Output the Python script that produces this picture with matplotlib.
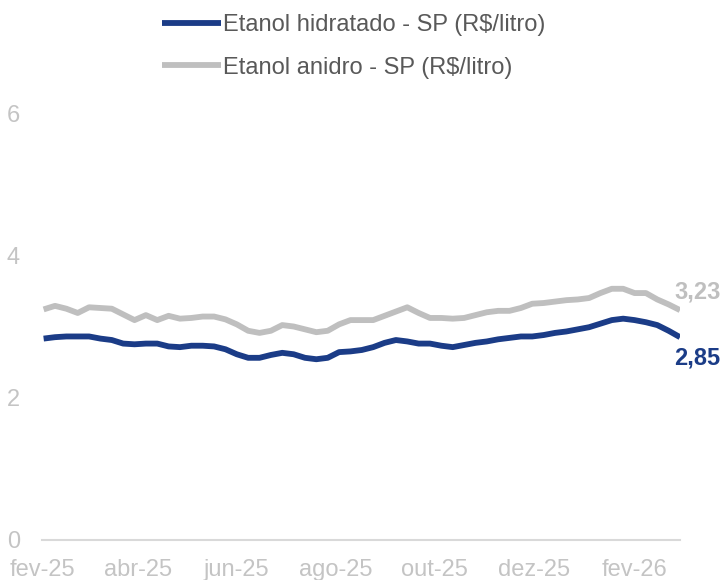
import matplotlib
matplotlib.use("Agg")
import matplotlib.pyplot as plt
import numpy as np
import pandas as pd

plt.rcParams['font.family'] = ['Liberation Sans', 'DejaVu Sans']

dates = pd.date_range("2025-02-02", periods=57, freq="7D")

hidratado = [2.83, 2.85, 2.86, 2.86, 2.86, 2.83, 2.81, 2.76, 2.75, 2.76,
             2.76, 2.72, 2.71, 2.73, 2.73, 2.72, 2.68, 2.61, 2.56, 2.56,
             2.60, 2.63, 2.61, 2.56, 2.54, 2.56, 2.64, 2.65, 2.67, 2.71,
             2.77, 2.81, 2.79, 2.76, 2.76, 2.73, 2.71, 2.74, 2.77, 2.79,
             2.82, 2.84, 2.86, 2.86, 2.88, 2.91, 2.93, 2.96, 2.99, 3.04,
             3.09, 3.11, 3.09, 3.06, 3.02, 2.94, 2.85]

anidro = [3.24, 3.29, 3.25, 3.19, 3.27, 3.26, 3.25, 3.17, 3.09, 3.16,
          3.09, 3.15, 3.11, 3.12, 3.14, 3.14, 3.10, 3.03, 2.94, 2.91,
          2.94, 3.02, 3.00, 2.96, 2.92, 2.94, 3.03, 3.09, 3.09, 3.09,
          3.15, 3.21, 3.27, 3.19, 3.12, 3.12, 3.11, 3.12, 3.16, 3.20,
          3.22, 3.22, 3.26, 3.32, 3.33, 3.35, 3.37, 3.38, 3.40, 3.47,
          3.53, 3.53, 3.47, 3.47, 3.38, 3.31, 3.23]

labels = ["Etanol hidratado - SP (R$/litro)", "Etanol anidro - SP (R$/litro)"]
month_pt = {1: "jan", 2: "fev", 3: "mar", 4: "abr", 5: "mai", 6: "jun",
            7: "jul", 8: "ago", 9: "set", 10: "out", 11: "nov", 12: "dez"}
yticks = [0, 2, 4, 6]

blue = "#1B3C87"
gray = "#BFBFBF"

fig = plt.figure(figsize=(7.24, 5.8), dpi=100)
ax = fig.add_axes([42/724, 40/580, (680-42)/724, (540-113)/580])

l1, = ax.plot(dates, hidratado, color=blue, lw=4.2, solid_capstyle='butt', solid_joinstyle='round')
l2, = ax.plot(dates, anidro, color=gray, lw=4.2, solid_capstyle='butt', solid_joinstyle='round')

ax.set_xlim(dates[0], dates[-1])
ax.set_ylim(0, 6)
ax.set_yticks(yticks)
ax.set_yticklabels([str(v) for v in yticks])

ticks = pd.date_range("2025-02-01", "2026-02-01", freq="2MS")
ax.set_xticks(ticks)
ax.set_xticklabels([f"{month_pt[d.month]}-{d.strftime('%y')}" for d in ticks])

for s in ['top', 'right', 'left']:
    ax.spines[s].set_visible(False)
ax.spines['bottom'].set_color('#D9D9D9')
ax.spines['bottom'].set_linewidth(1.5)
ax.tick_params(axis='both', length=0, labelsize=17, labelcolor='#C4C4C4')
ax.tick_params(axis='y', pad=16)
ax.tick_params(axis='x', pad=13.5)

ax.annotate(f"{anidro[-1]:.2f}".replace('.', ','), xy=(dates[-1], anidro[-1]),
            xytext=(-4, 13), textcoords='offset points', color=gray,
            fontsize=17, fontweight='bold', ha='left', va='center', annotation_clip=False)
ax.annotate(f"{hidratado[-1]:.2f}".replace('.', ','), xy=(dates[-1], hidratado[-1]),
            xytext=(-4, -15), textcoords='offset points', color=blue,
            fontsize=17, fontweight='bold', ha='left', va='center', annotation_clip=False)

fig.legend([l1, l2], labels, loc='upper left', bbox_to_anchor=(153/724, 1 - 5/580),
           frameon=False, fontsize=17, handlelength=2.5, handletextpad=0.05,
           labelspacing=0.85, labelcolor='#595959', borderaxespad=0.0)

fig.savefig("out.png", dpi=100)
